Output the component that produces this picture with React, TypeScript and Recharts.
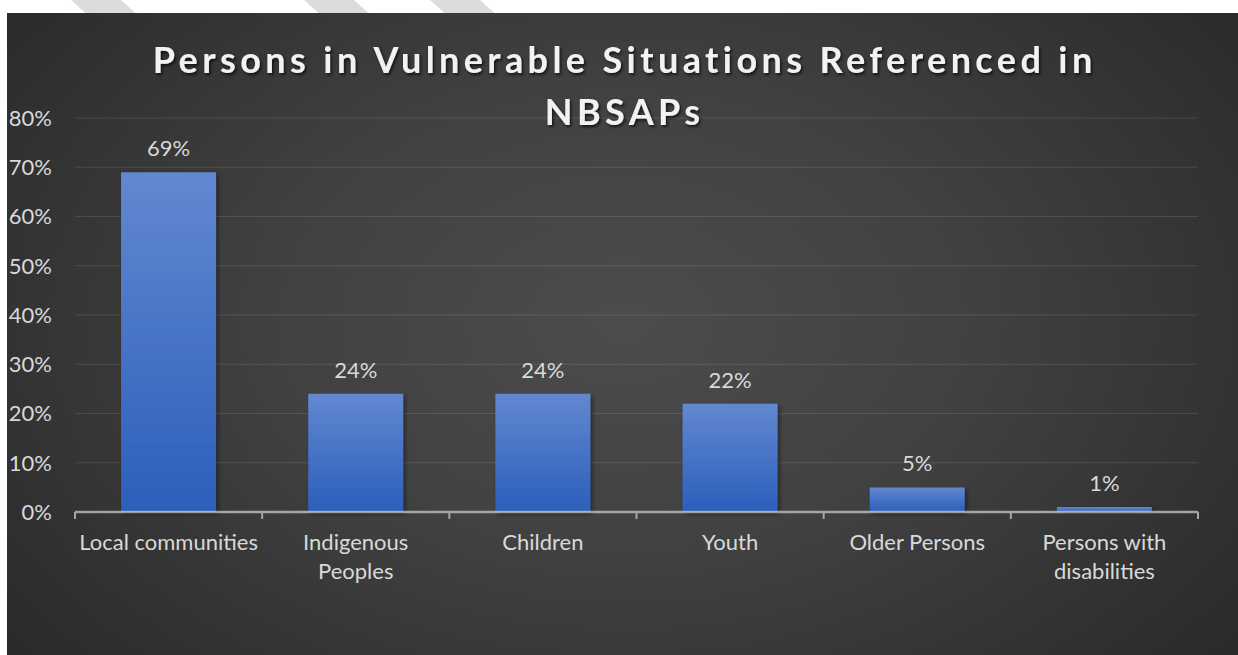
import React from 'react';
import { BarChart, Bar, XAxis, YAxis, CartesianGrid, LabelList } from 'recharts';

// values
const categories = [
  'Local communities',
  'Indigenous\nPeoples',
  'Children',
  'Youth',
  'Older Persons',
  'Persons with\ndisabilities',
];
const shares = [69, 24, 24, 22, 5, 1];
const yTicks = [0, 10, 20, 30, 40, 50, 60, 70, 80];
const titleLines = ['Persons in Vulnerable Situations Referenced in', 'NBSAPs'];

const data = categories.map((name, i) => ({ name, value: shares[i] }));

const FONT = 'Lato, "Open Sans", sans-serif';
const TEXT = '#d9d9d9';
const CHART_W = 1231;
const CHART_H = 642;
const TITLE_SPACING = 4.4;

// x tick: wrapped label + tick marks on the category boundaries
const XTick = (props: any) => {
  const { x, y, payload, index, visibleTicksCount, width } = props;
  const count = visibleTicksCount || categories.length;
  const half = (width || 1123) / count / 2;
  const lines = String(payload.value).split('\n');
  return (
    <g>
      <line x1={x - half} x2={x - half} y1={y} y2={y + 7} stroke="#a6a6a6" strokeWidth={2} />
      {index === count - 1 && (
        <line x1={x + half} x2={x + half} y1={y} y2={y + 7} stroke="#a6a6a6" strokeWidth={2} />
      )}
      <text x={x} y={y + 38} textAnchor="middle" fill={TEXT} fontSize={22} fontFamily={FONT}>
        {lines.map((line, i) => (
          <tspan key={i} x={x} dy={i === 0 ? 0 : 29}>
            {line}
          </tspan>
        ))}
      </text>
    </g>
  );
};

const stripes = [71, 304, 430];

export default function App() {
  return (
    <div style={{ position: 'absolute', left: 0, top: 0, width: 1238, height: 655, background: '#fff', overflow: 'hidden' }}>
      {stripes.map((left) => (
        <div
          key={left}
          style={{
            position: 'absolute',
            left,
            top: 0,
            width: 50,
            height: 14,
            background: '#dcdcdc',
            transform: 'skewX(48deg)',
            transformOrigin: 'top left',
          }}
        />
      ))}
      <div
        style={{
          position: 'absolute',
          left: 7,
          top: 13,
          width: CHART_W,
          height: CHART_H,
          background: 'radial-gradient(ellipse 62% 80% at 50% 48%, #4c4c4c 0%, #414141 45%, #2b2b2b 100%)',
        }}
      >
        <BarChart
          width={CHART_W}
          height={CHART_H}
          data={data}
          margin={{ top: 105, right: 40, bottom: 83, left: 0 }}
          barCategoryGap="24.6%"
        >
          <defs>
            <linearGradient id="barFill" x1="0" y1="0" x2="0" y2="1">
              <stop offset="0%" stopColor="#6288d0" />
              <stop offset="100%" stopColor="#2c5ebb" />
            </linearGradient>
            <filter id="barShadow" x="-10%" y="-10%" width="130%" height="130%">
              <feDropShadow dx="2" dy="2" stdDeviation="2" floodColor="#000" floodOpacity="0.45" />
            </filter>
          </defs>
          <CartesianGrid vertical={false} stroke="rgba(255,255,255,0.11)" strokeWidth={1} />
          <YAxis
            width={68}
            domain={[0, 80]}
            ticks={yTicks}
            interval={0}
            axisLine={false}
            tickLine={false}
            tickSize={0}
            tickMargin={23}
            tickFormatter={(v: number) => `${v}%`}
            tick={{ fill: TEXT, fontSize: 22, fontFamily: FONT }}
          />
          <Bar dataKey="value" fill="url(#barFill)" filter="url(#barShadow)" isAnimationActive={false}>
            <LabelList
              dataKey="value"
              position="top"
              offset={16}
              formatter={(v: any) => `${v}%`}
              fill={TEXT}
              fontSize={22}
              fontFamily={FONT}
            />
          </Bar>
          <XAxis
            dataKey="name"
            height={60}
            interval={0}
            tickSize={0}
            tickMargin={0}
            tickLine={false}
            axisLine={{ stroke: 'rgba(225,225,225,0.62)', strokeWidth: 2.5 }}
            tick={<XTick />}
          />
        </BarChart>
        <svg
          width={CHART_W}
          height={140}
          style={{ position: 'absolute', left: 0, top: 0, pointerEvents: 'none' }}
        >
          <defs>
            <filter id="titleShadow" x="-5%" y="-30%" width="110%" height="160%">
              <feDropShadow dx="1.5" dy="2" stdDeviation="1.5" floodColor="#000" floodOpacity="0.7" />
            </filter>
          </defs>
          {titleLines.map((line, i) => (
            <text
              key={line}
              x={615.5 + TITLE_SPACING / 2}
              y={60 + i * 52}
              textAnchor="middle"
              fill="#f2f2f2"
              fontSize={36}
              fontWeight={700}
              fontFamily={FONT}
              letterSpacing={TITLE_SPACING}
              filter="url(#titleShadow)"
            >
              {line}
            </text>
          ))}
        </svg>
      </div>
    </div>
  );
}
